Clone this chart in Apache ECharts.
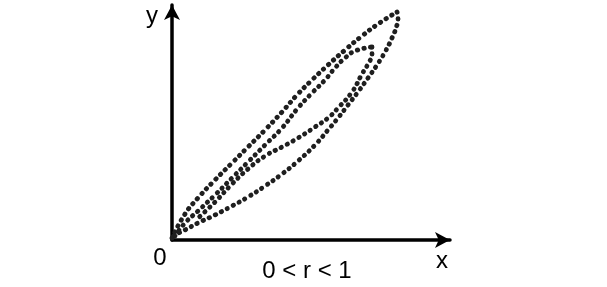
<!DOCTYPE html>
<html>
<head>
<meta charset="utf-8">
<script src="https://cdn.jsdelivr.net/npm/echarts@6/dist/echarts.min.js"></script>
<style>html,body{margin:0;padding:0;background:#fff}#c{width:607px;height:287px}</style>
</head>
<body>
<div id="c"></div>
<script>
// Curve points (x, y in axis units, origin at the corner)
const outerUpper = [[0,2],[13,26],[26,42],[43,60],[60,77],[76,93],[93,110],[110,128],[125,145],[140,160],[156,175],[173,190],[190,204],[206,216],[225,228]];
const outerLower = [[225,228],[226,222],[225,215],[220,202],[213,188],[205,175],[196,162],[186,148],[176,135],[166,122],[156,110],[143,95],[126,79],[110,66],[93,54],[76,43],[60,34],[43,25],[26,17],[13,10],[3,5],[0,2]];
const innerUpper = [[3,4],[13,17],[26,29],[43,45],[60,62],[76,78],[93,95],[110,112],[126,132],[140,147],[153,160],[163,172],[173,182],[183,189],[200,193]];
const innerLower = [[200,193],[200,186],[196,176],[190,166],[180,148],[166,132],[156,122],[143,113],[126,102],[110,93],[93,84],[76,71],[60,56],[43,38],[24,20]];
const labels = { x: 'x', y: 'y', origin: '0', range: '0 < r < 1' };

const chart = echarts.init(document.getElementById('c'), null, {renderer: 'canvas'});
const dotStyle = { color: '#1f1f1f', width: 4.8, type: [0.4, 6.3], cap: 'round' };
function curve(data) {
  return { type: 'line', data: data, smooth: 0.5, showSymbol: false, symbol: 'none',
           lineStyle: dotStyle, animation: false, silent: true };
}
const axisCommon = {
  type: 'value', min: 0,
  axisLine: { show: true, onZero: false, lineStyle: { color: '#000', width: 3.5 },
              symbol: ['none', 'arrow'], symbolSize: [12, 15] },
  axisTick: { show: false }, axisLabel: { show: false }, splitLine: { show: false }
};
const font = '24px "Liberation Sans", Arial, sans-serif';
function txt(s, x, y) {
  return { type: 'text', style: { text: s, x: x, y: y, font: font, fill: '#000',
           textAlign: 'center', textVerticalAlign: 'middle' } };
}
chart.setOption({
  backgroundColor: '#fff',
  animation: false,
  grid: { left: 172, top: 5, width: 278, height: 235 },
  xAxis: Object.assign({}, axisCommon, { max: 278 }),
  yAxis: Object.assign({}, axisCommon, { max: 235 }),
  series: [curve(outerUpper), curve(outerLower), curve(innerUpper), curve(innerLower)],
  graphic: [
    txt(labels.y, 152, 16),
    txt(labels.x, 442, 261),
    txt(labels.origin, 160, 258),
    txt(labels.range, 307, 271)
  ]
});
</script>
</body>
</html>
